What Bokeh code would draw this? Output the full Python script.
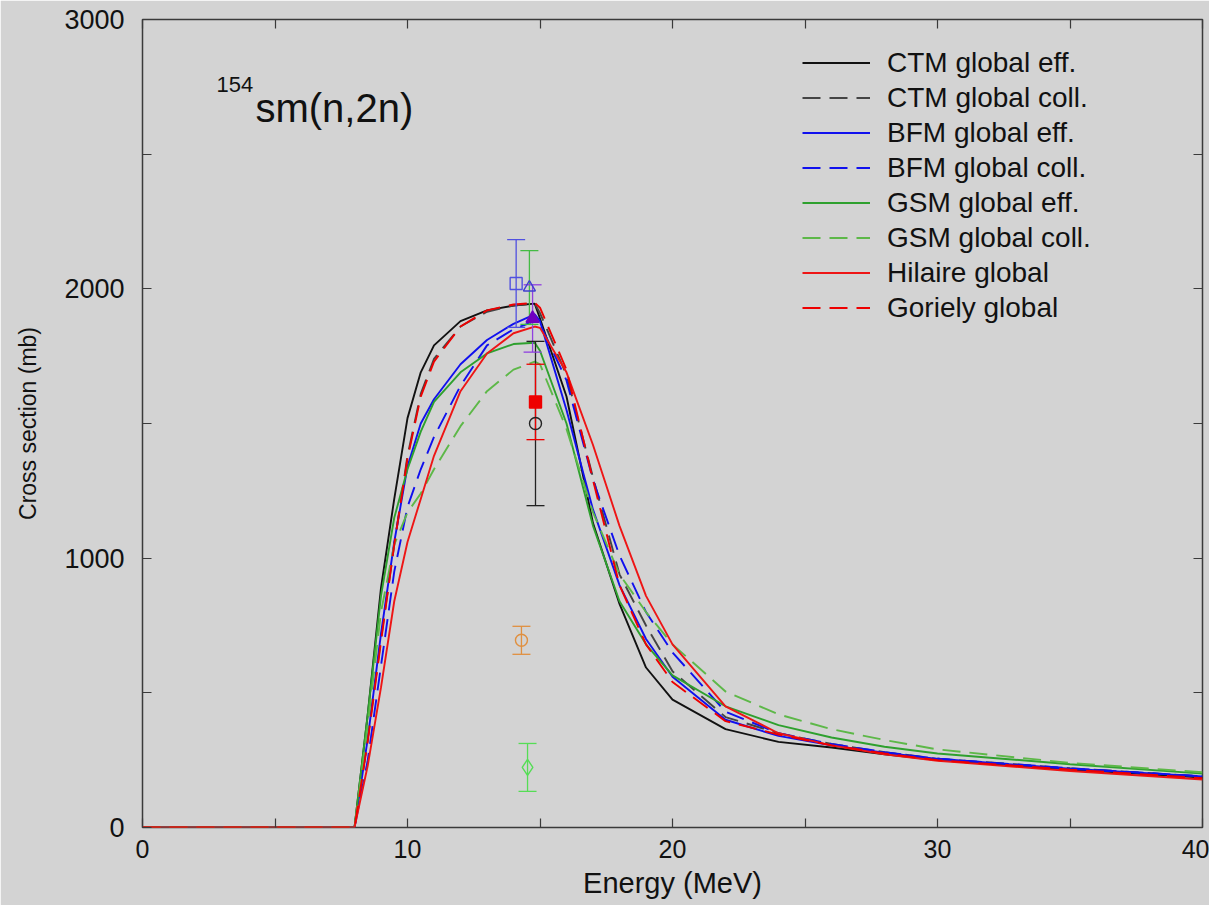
from bokeh.plotting import figure
from bokeh.models import Range1d, LinearAxis, FixedTicker, Legend, LegendItem, Label, ColumnDataSource
from bokeh.embed import file_html
from bokeh.resources import INLINE

# ---------------- data ----------------
energy = [0, 8, 8.5, 9, 9.5, 10, 10.5, 11, 12, 13, 14, 14.8, 15, 16, 17, 18, 19, 20, 22, 24, 26, 28, 30, 35, 40]

ctm_eff  = [0, 0, 420, 890, 1220, 1520, 1690, 1790, 1880, 1920, 1938, 1945, 1890, 1600, 1130, 830, 594, 475, 365, 318, 297, 272, 250, 215, 185]
ctm_coll = [0, 0, 330, 700, 1050, 1380, 1610, 1740, 1860, 1915, 1938, 1945, 1910, 1680, 1300, 940, 750, 580, 410, 350, 310, 280, 255, 220, 190]
bfm_eff  = [0, 0, 330, 720, 1060, 1340, 1500, 1590, 1720, 1810, 1870, 1905, 1880, 1550, 1180, 900, 700, 560, 400, 340, 305, 278, 255, 218, 190]
bfm_coll = [0, 0, 250, 600, 950, 1190, 1330, 1450, 1640, 1790, 1850, 1880, 1870, 1660, 1290, 1010, 800, 650, 430, 350, 310, 280, 255, 220, 190]
gsm_eff  = [0, 0, 420, 860, 1150, 1330, 1470, 1580, 1690, 1760, 1795, 1800, 1770, 1500, 1120, 840, 680, 565, 450, 380, 334, 300, 275, 235, 200]
gsm_coll = [0, 0, 380, 800, 1050, 1170, 1240, 1330, 1490, 1620, 1700, 1730, 1720, 1480, 1170, 940, 800, 680, 505, 420, 365, 325, 290, 240, 205]
hilaire  = [0, 0, 230, 520, 840, 1060, 1220, 1380, 1620, 1760, 1835, 1860, 1855, 1690, 1420, 1120, 860, 680, 450, 350, 305, 272, 248, 210, 178]
goriely  = [0, 0, 320, 690, 1050, 1370, 1600, 1730, 1860, 1920, 1942, 1948, 1930, 1700, 1290, 900, 680, 540, 395, 345, 305, 275, 250, 215, 183]

series_names = ["CTM global eff.", "CTM global coll.", "BFM global eff.", "BFM global coll.",
                "GSM global eff.", "GSM global coll.", "Hilaire global", "Goriely global"]

# experimental points (E, sigma, error)
exp_energy = [14.1, 14.6, 14.72, 14.83, 14.83, 14.3, 14.53]
exp_sigma  = [2020, 2005, 1890, 1500, 1580, 695, 223]
exp_err    = [163, 137, 125, 305, 140, 52, 89]
exp_marker = ["square", "triangle", "triangle", "circle", "square", "circle", "diamond"]
exp_line   = ["#5050E0", "#4040D0", "#7000C0", "#222222", "#EE0000", "#E09040", "#55DD55"]
exp_bar    = ["#5050E0", "#44BB44", "#9040E0", "#222222", "#EE0000", "#E09040", "#55DD55"]
exp_fill   = [None, None, "#7000C0", None, "#EE0000", None, None]
exp_size   = [12, 12, 13, 12, 12, 12, 16]

x_major = [0, 10, 20, 30, 40]
x_minor = [5, 15, 25, 35]
y_major = [0, 1000, 2000, 3000]
y_minor = [500, 1500, 2500]

# ---------------- figure ----------------
GRAY = "#D3D3D3"
FONT = "Liberation Sans"
TICK = "#3a3a3a"
p = figure(width=1209, height=905, x_range=Range1d(0, 40), y_range=Range1d(0, 3000),
           output_backend="svg", toolbar_location=None,
           min_border_left=142, min_border_right=7, min_border_top=19, min_border_bottom=78,
           background_fill_color=GRAY, border_fill_color=GRAY,
           outline_line_color=TICK, outline_line_width=1.5,
           x_axis_label="Energy (MeV)", y_axis_label="Cross section (mb)")
p.grid.visible = False

def style_axis(ax, major, minor):
    ax.ticker = FixedTicker(ticks=major, minor_ticks=minor)
    ax.axis_line_color = None
    ax.major_tick_in = 9
    ax.major_tick_out = 0
    ax.minor_tick_in = 9
    ax.minor_tick_out = 0
    ax.major_tick_line_color = TICK
    ax.minor_tick_line_color = TICK
    ax.major_tick_line_width = 1.2
    ax.minor_tick_line_width = 1.2

xa = p.xaxis[0]
ya = p.yaxis[0]
style_axis(xa, x_major, x_minor)
style_axis(ya, y_major, y_minor)
xa.major_label_text_font = FONT
xa.major_label_text_font_size = "25px"
xa.major_label_text_color = "#111111"
xa.major_label_standoff = 12
xa.axis_label_text_font = FONT
xa.axis_label_text_font_size = "29px"
xa.axis_label_text_font_style = "normal"
xa.axis_label_text_color = "#111111"
xa.axis_label_standoff = 6
ya.major_label_text_font = FONT
ya.major_label_text_font_size = "27px"
ya.major_label_text_color = "#111111"
ya.major_label_standoff = 18
ya.axis_label_text_font = FONT
ya.axis_label_text_font_size = "23px"
ya.axis_label_text_font_style = "normal"
ya.axis_label_text_color = "#111111"
ya.axis_label_standoff = 20

# frame ticks on the top and right sides (no labels)
top = LinearAxis()
style_axis(top, [], x_major + x_minor)
p.add_layout(top, "above")
right = LinearAxis()
style_axis(right, [], y_major + y_minor)
p.add_layout(right, "right")

# ---------------- curves ----------------
curves = [ctm_eff, ctm_coll, bfm_eff, bfm_coll, gsm_eff, gsm_coll, hilaire, goriely]
colors = ["#111111", "#444444", "#1010EE", "#1010EE", "#2EA02E", "#5DB848", "#EE1515", "#EE0000"]
dashes = ["solid", "18 9", "solid", "18 9", "solid", "18 9", "solid", "18 9"]
items = []
for name, ys, c, d in zip(series_names, curves, colors, dashes):
    r = p.line(energy, ys, line_color=c, line_dash=d, line_width=1.9)
    items.append(LegendItem(label=name, renderers=[r]))

# ---------------- experimental data ----------------
lower = [s - e for s, e in zip(exp_sigma, exp_err)]
upper = [s + e for s, e in zip(exp_sigma, exp_err)]
src = ColumnDataSource(dict(x=exp_energy, y=exp_sigma, lo=lower, hi=upper,
                            marker=exp_marker, lc=exp_line, bc=exp_bar, sz=exp_size,
                            fc=[f if f else GRAY for f in exp_fill],
                            fa=[1 if f else 0 for f in exp_fill]))
p.segment(x0="x", y0="lo", x1="x", y1="hi", line_color="bc", line_width=1.3, source=src)
p.scatter(x="x", y="lo", marker="dash", size=18, line_color="bc", line_width=1.3, source=src)
p.scatter(x="x", y="hi", marker="dash", size=18, line_color="bc", line_width=1.3, source=src)
p.scatter(x="x", y="y", marker="marker", size="sz", line_color="lc", fill_color="fc",
          fill_alpha="fa", line_width=1.4, source=src)

# ---------------- title ----------------
p.add_layout(Label(x=2.79, y=2759, text="154", text_font=FONT, text_font_size="22px",
                   text_color="#111111", text_baseline="alphabetic"))
p.add_layout(Label(x=4.26, y=2673, text="sm(n,2n)", text_font=FONT, text_font_size="40px",
                   text_color="#111111", text_baseline="alphabetic"))

# ---------------- legend ----------------
legend = Legend(items=items, location=(660, 502), padding=0, margin=0, spacing=0,
                glyph_width=68, glyph_height=35, label_height=35, label_standoff=17,
                label_text_font=FONT, label_text_font_size="28px", label_text_color="#111111",
                background_fill_alpha=0, border_line_alpha=0)
p.add_layout(legend)

html = file_html(p, INLINE)
html = html.replace("<body>", '<body style="background-color:#FFFFF2;">', 1)
open("out.html", "w").write(html)
